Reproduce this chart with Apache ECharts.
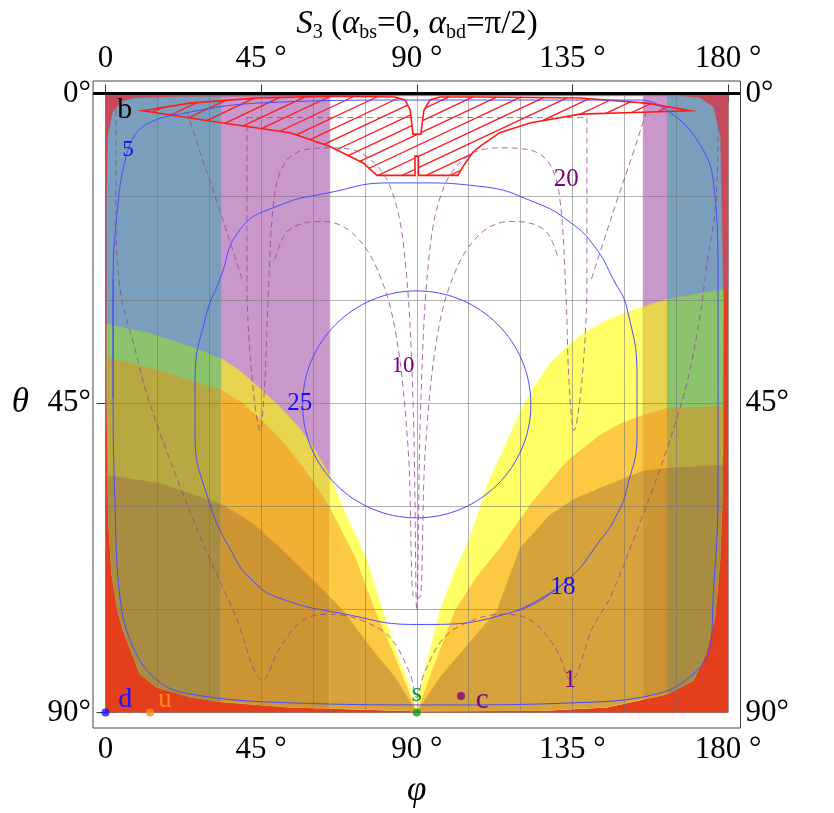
<!DOCTYPE html>
<html>
<head>
<meta charset="UTF-8">
<title>S3</title>
<style>
  html, body { margin: 0; padding: 0; background: #fff; }
  #chart { width: 834px; height: 813px; }
</style>
<script src="https://cdn.jsdelivr.net/npm/echarts@6/dist/echarts.min.js"></script>
</head>
<body>
<div id="chart"></div>
<script>
// ---- data (phi, theta in degrees) ----
var phiTicks = [0, 45, 90, 135, 180];
var thetaTicks = [0, 45, 90];

// vertical bands of the background
var bandEdges = [0, 33.5, 65, 155.5, 162.5, 180];
var bandKinds = ['blue', 'purple', 'white', 'purple', 'blue'];

// edge of the allowed region, red outside
var innerShape = [[8.5,0.7],[20,0.5],[90,0.4],[160,0.4],[166,0.4],[171.9,0.65],[175.7,2],[177.7,6.3],[178.6,30],[178.5,50],
  [178.3,58.8],[177.6,68],[176.2,76],[173.5,81.5],[170,85.3],[162.4,87.3],[145,89.2],[125.7,89.7],[90,89.75],[53,89.2],
  [33,88.4],[24.4,87.7],[14.8,86.3],[10,84.4],[5.1,78],[3.5,75],[1.9,70],[0.9,62],[0.45,44],[0.4,16],[0.8,6],[2.2,2.7],[4.7,1.2]];

// the three overlapping bottom regions, left and right branches
var yellowLeft = [[0,33.5],[12.9,34.9],[24.4,36.8],[33.7,38.6],[39,40.4],[44.7,42.9],[50.5,45.6],[56.2,48.7],[60.5,51.8],[64.9,55.6],
  [69.3,61],[75.3,67.5],[80.2,75.2],[84.6,82],[87.5,85.6],[90,90]];
var yellowRight = [[90,90],[91.8,84.9],[96.7,75.2],[101,69.5],[105.4,64.6],[111.2,55.9],[117,49.7],[120.2,46],[123.6,42.9],[128.5,39.3],
  [133,37],[138.1,34.9],[144,33.2],[150.8,31.8],[162.4,29.9],[180,28.4]];
var orangeLeft = [[0,38.3],[15.8,40.3],[33.7,43.2],[39.5,45],[44.7,47.3],[50.5,50.2],[56.2,53.8],[60.8,57],[64.9,60.3],[72.2,67.5],
  [77.9,75.2],[83.7,82],[86,84.9],[90,90]];
var orangeRight = [[90,90],[93.8,84.9],[101.1,75.2],[107.5,70.2],[114.1,66.1],[123.6,59.3],[133.4,53.5],[143,49.7],[149,48],
  [155.4,46.8],[162.4,45.8],[180,45.4]];
var brownLeft = [[0,55.5],[15.8,56.7],[33.7,59.8],[42.5,62.5],[50.5,66.1],[57,69.3],[62,71.8],[68.7,75.2],[76.5,80.5],[83.7,84.9],[90,90]];
var brownRight = [[90,90],[96.7,84.9],[105,80],[113.2,75.2],[119.9,66.1],[128.5,61.3],[135.5,59],[143,57.4],[155.4,54.9],
  [162.4,54.5],[180,54]];

// solid contours (loops start under their labels and overlap a little)
var contour5 = [[2.2,44.3],[2.2,27],[3.6,16.1],[5.6,9.9],[8.5,6],[13.4,4.1],[20.1,3.1],[43.8,1.4],[90,0.95],[154.7,0.95],[163.3,2.8],[171,6.7],
  [175.7,12.5],[177.1,27],[177.1,58.8],[175.7,73.3],[174.8,80.5],[169.9,84.4],[159.5,87.3],[135.2,88.6],[96.7,88.9],[53.4,88.6],
  [24.4,87.3],[14.9,85.3],[8,80.5],[4.2,73.3],[2.7,58.8],[2.2,44.3],[2.2,27]];
var contour18 = [[133.4,70.8],[119,75.2],[90,77.2],[69.3,75.7],[49.9,73.3],[42.5,70.8],[37.4,67.5],[29.6,58.8],[25.9,49.1],
  [25.9,41.9],[28.8,32.8],[33.1,27],[38.9,19.8],[49.6,16.4],[64.9,14.4],[82.3,13],[90,13],[108.3,13.5],[124,15.8],[134.3,18.7],
  [141.5,22.3],[146.8,27],[150.8,31.3],[153.7,41.9],[153.7,49.1],[150.8,57.4],[147.5,61.6],[143,65],[133.4,70.8],[119,75.2]];
// the 25 contour is a near-perfect circle: centre and half-extents in (phi, theta)
var contour25Center = [90, 45.2];
var contour25Half = [33, 16.5];

// dashed contours
var dashed1 = [[3,0.9],[3,15.4],[4.2,28.4],[8.5,37.1],[12.3,44.3],[21,56.4],[28.8,66.1],[37.4,75.7],[45.5,85.3],[50.5,80.5],[57.1,76.6],
  [64.9,75.7],[73.6,76.5],[82.3,79.1],[88.1,84.4],[90,87.8],[92.1,84.4],[97.9,79.1],[106.6,76.5],[115.2,75.7],[123,76.6],[130,80.5],
  [134.6,85.3],[140.9,77.6],[145.9,73.3],[155.4,61.3],[162.4,51.6],[168.2,41.9],[171.9,32.3],[174,24.5],[176.6,15.4],[177.2,0.9]];
var dashed20 = [[40.9,3.5],[56.2,3.5],[90,3.5],[122.7,3.5],[139.2,3.5],[139.2,15.4],[139.2,27],[137.8,41.5],[135.5,49],[134,41.5],
  [133.2,29.9],[131.4,15.4],[128.5,10.3],[122.7,8.2],[114.1,7.9],[105.4,8.9],[98.2,13.2],[93.8,22.6],[91.2,44.3],[90,75.2],
  [88.9,44.3],[86.3,22.6],[82,13.2],[74.8,8.9],[66.1,7.9],[57.4,8.2],[51.6,10.3],[48.7,15.4],[47,29.9],[46.1,41.5],[44.7,49],
  [42.4,41.5],[40.9,27],[40.9,15.4],[40.9,3.5]];
var dashed10 = [[49,24.1],[51.9,20.5],[56.2,19],[62.9,18.6],[70.7,20],[77.9,24.8],[83.7,34.2],[87.5,51.6],[89.2,73.3],[90.8,73.3],
  [92.5,51.6],[96.3,34.2],[102.1,24.8],[109.3,20],[117.1,18.6],[123.8,19],[128.1,20.5],[131,24.1]];
var dashedCornerL = [[23.6,2.6],[27,8],[32,15.4],[35,20],[39.5,27]];
var dashedCornerR = [[156.4,2.6],[153,8],[148,15.4],[145,20],[140.5,27]];

// hatched region near theta = 0
var hatchRegion = [[10.8,2.5],[24.4,1.4],[43.8,0.65],[64.9,0.4],[83.7,0.5],[86.6,0.94],[88.1,2.4],[88.6,4.6],[88.9,5.9],[91.2,5.9],
  [91.5,4.6],[92.1,2.4],[93.8,0.94],[96.7,0.5],[108.3,0.5],[137.2,0.65],[156.6,1.4],[169,2.5],[157.5,2.7],[137.2,3],[122.7,4.3],
  [114,5.7],[108.3,7.7],[106.3,8.5],[103.4,10.6],[101.9,11.9],[90.5,11.9],[90.5,9.1],[89.5,9.1],[89.5,11.9],[78.5,11.9],[74.5,10.1],
  [64.9,7.7],[53.4,5.7],[34,4.3]];

// quark points and text labels
var quarkNames = ['d', 'u', 's', 'c'];
var quarkPhi = [0, 12.9, 90, 102.8];
var quarkTheta = [90, 90, 90, 87.6];
var labelText = ['b', '5', '20', '10', '25', '18', '1', 'd', 'u', 's', 'c'];
var labelPhi = [5.6, 6.5, 133.2, 86, 56.2, 132.3, 134.3, 5.7, 17.2, 90, 108.9];
var labelTheta = [2.4, 8.2, 12.5, 39.6, 45.1, 71.8, 85.3, 88.2, 88.2, 87.3, 88.2];

// ---- styles ----
var serif = 'Liberation Serif';
var bandColors = {
  white:  { base: '#ffffff', yellow: '#ffff66', orange: '#fdc842', brown: '#d5a23b' },
  purple: { base: '#c997c9', yellow: '#e8d44e', orange: '#f0b031', brown: '#cc9433' },
  blue:   { base: '#7a9fbd', yellow: '#8cc46e', orange: '#b8a842', brown: '#a88c42' }
};
var redHigh = '#c94a5a', redLow = '#e43e1c';
var labelColors = { b: '#000', '5': '#1010ff', '20': '#800080', '10': '#800080', '25': '#1010ff', '18': '#1010ff', '1': '#800080',
  d: '#1515ff', u: '#ff8c1a', s: '#12a012', c: '#800080' };
var labelSizes = { b: 30, '5': 23, '20': 25, '10': 23, '25': 25, '18': 25, '1': 25, d: 28, u: 27, s: 27, c: 29 };
var dotColors = { d: '#1515ff', u: '#ff8c1a', s: '#12a012', c: '#800080' };
var dashColor = 'rgba(150,70,150,0.8)', solidColor = '#4b4bff';

var gridLeft = 105.5, gridTop = 93.5, gridRight = 834 - 728, gridBottom = 813 - 715.5;
var pad = 12.5;

// ---- polygon clipping ----
function clipPoly(poly, inside, cut) {
  var out = [];
  for (var i = 0; i < poly.length; i++) {
    var cur = poly[i], prev = poly[(i + poly.length - 1) % poly.length];
    var ci = inside(cur), pi = inside(prev);
    if (ci) {
      if (!pi) out.push(cut(prev, cur));
      out.push(cur);
    } else if (pi) {
      out.push(cut(prev, cur));
    }
  }
  return out;
}
function clipStrip(poly, a, b) {
  var p = clipPoly(poly, function (q) { return q[0] >= a; }, function (p1, p2) {
    var t = (a - p1[0]) / (p2[0] - p1[0]);
    return [a, p1[1] + t * (p2[1] - p1[1])];
  });
  return clipPoly(p, function (q) { return q[0] <= b; }, function (p1, p2) {
    var t = (b - p1[0]) / (p2[0] - p1[0]);
    return [b, p1[1] + t * (p2[1] - p1[1])];
  });
}
function polyArea(poly) {
  var s = 0;
  for (var i = 0; i < poly.length; i++) {
    var p = poly[i], q = poly[(i + 1) % poly.length];
    s += p[0] * q[1] - q[0] * p[1];
  }
  return s / 2;
}
function clipConvex(poly, clip) {
  var sgn = polyArea(clip) > 0 ? 1 : -1;
  var out = poly;
  for (var i = 0; i < clip.length && out.length; i++) {
    var c1 = clip[i], c2 = clip[(i + 1) % clip.length];
    var side = function (q) {
      return sgn * ((c2[0] - c1[0]) * (q[1] - c1[1]) - (c2[1] - c1[1]) * (q[0] - c1[0]));
    };
    out = clipPoly(out, function (q) { return side(q) >= 0; }, function (p1, p2) {
      var s1 = side(p1), s2 = side(p2), t = s1 / (s1 - s2);
      return [p1[0] + t * (p2[0] - p1[0]), p1[1] + t * (p2[1] - p1[1])];
    });
  }
  return out;
}
function layerPoly(left, right) {
  return left.concat(right.slice(1)).concat([[180, 90], [0, 90]]);
}
var layers = [
  { key: 'yellow', poly: clipConvex(layerPoly(yellowLeft, yellowRight), innerShape) },
  { key: 'orange', poly: clipConvex(layerPoly(orangeLeft, orangeRight), innerShape) },
  { key: 'brown', poly: clipConvex(layerPoly(brownLeft, brownRight), innerShape) }
];

function renderFills(params, api) {
  var children = [];
  function add(poly, color) {
    if (poly.length < 3) return;
    children.push({
      type: 'polygon', silent: true,
      shape: { points: poly.map(function (p) { return api.coord(p); }) },
      style: { fill: color, stroke: color, lineWidth: 0.6 }
    });
  }
  add([[0, 0], [180, 0], [180, 90], [0, 90]], redLow);
  add([[0, 0], [180, 0], [180, yellowRight[yellowRight.length - 1][1]], [0, yellowLeft[0][1]]], redHigh);
  for (var i = 0; i < bandKinds.length; i++) {
    var a = bandEdges[i], b = bandEdges[i + 1], cols = bandColors[bandKinds[i]];
    add(clipStrip(innerShape, a, b), cols.base);
    layers.forEach(function (L) { add(clipStrip(L.poly, a, b), cols[L.key]); });
  }
  return { type: 'group', children: children };
}

function renderHatch(params, api) {
  var pts = hatchRegion.map(function (p) { return api.coord(p); });
  var children = [];
  var slope = 0.47, step = 24;
  var cs = pts.map(function (p) { return p[1] + slope * p[0]; });
  var cmin = Math.min.apply(null, cs), cmax = Math.max.apply(null, cs);
  for (var c = cmin + 6; c < cmax; c += step * slope) {
    var xs = [];
    for (var i = 0; i < pts.length; i++) {
      var p1 = pts[i], p2 = pts[(i + 1) % pts.length];
      var f1 = p1[1] + slope * p1[0] - c, f2 = p2[1] + slope * p2[0] - c;
      if ((f1 < 0) !== (f2 < 0)) {
        var t = f1 / (f1 - f2);
        xs.push(p1[0] + t * (p2[0] - p1[0]));
      }
    }
    xs.sort(function (u, v) { return u - v; });
    for (var k = 0; k + 1 < xs.length; k += 2) {
      children.push({ type: 'line', silent: true,
        shape: { x1: xs[k], y1: c - slope * xs[k], x2: xs[k + 1], y2: c - slope * xs[k + 1] },
        style: { stroke: '#ff1a1a', lineWidth: 1.3 } });
    }
  }
  children.push({ type: 'polygon', silent: true, shape: { points: pts },
    style: { fill: 'none', stroke: '#ff1a1a', lineWidth: 1.6 } });
  return { type: 'group', children: children };
}

function renderCircle(params, api) {
  var c = api.coord(contour25Center), s = api.size(contour25Half);
  return { type: 'ellipse', silent: true, shape: { cx: c[0], cy: c[1], rx: s[0], ry: s[1] },
    style: { fill: 'none', stroke: solidColor, lineWidth: 1 } };
}

function renderTopLine(params, api) {
  var a = api.coord([0, 0]), b = api.coord([180, 0]);
  return { type: 'line', silent: true, shape: { x1: a[0] - pad, y1: a[1], x2: b[0] + pad, y2: b[1] },
    style: { stroke: '#000', lineWidth: 3 } };
}

function renderLabels(params, api) {
  var i = params.dataIndex, t = labelText[i];
  var p = api.coord([labelPhi[i], labelTheta[i]]);
  return { type: 'text', silent: true, x: p[0], y: p[1],
    style: { text: t, fill: labelColors[t], font: labelSizes[t] + 'px "' + serif + '"', align: 'center', verticalAlign: 'middle' } };
}

function lineSeries(data, color, dashed, smooth) {
  return { type: 'line', data: data, showSymbol: false, smooth: smooth, z: 5, silent: true,
    lineStyle: { color: color, width: 1, type: dashed ? [6, 4] : 'solid' } };
}

var chart = echarts.init(document.getElementById('chart'));

var degLabel = { fontFamily: serif, fontSize: 31, color: '#000' };
var nameStyle = { fontFamily: serif, fontStyle: 'italic', fontSize: 35, color: '#000' };
chart.setOption({
  animation: false,
  title: {
    text: '{i|S}{sub|3}{n| (}{i|α}{sub|bs}{n|=0, }{i|α}{sub|bd}{n|=π/2)}',
    left: 'center', top: 0,
    textStyle: {
      fontWeight: 'normal',
      rich: {
        i: { fontFamily: serif, fontStyle: 'italic', fontWeight: 'normal', fontSize: 33, lineHeight: 38, color: '#000' },
        n: { fontFamily: serif, fontWeight: 'normal', fontSize: 33, lineHeight: 38, color: '#000' },
        sub: { fontFamily: serif, fontWeight: 'normal', fontSize: 20, lineHeight: 16, verticalAlign: 'bottom', color: '#000' }
      }
    }
  },
  grid: { left: gridLeft, top: gridTop, right: gridRight, bottom: gridBottom },
  xAxis: [
    { type: 'value', min: 0, max: 180, interval: 15, position: 'bottom', z: 3,
      axisLine: { show: false }, axisTick: { show: false }, axisLabel: { show: false },
      splitLine: { show: true, lineStyle: { color: 'rgba(115,115,115,0.55)', width: 1 } } },
    { type: 'value', min: 0, max: 180, interval: 45, position: 'bottom', offset: pad,
      axisLine: { show: false }, splitLine: { show: false },
      axisTick: { inside: true, length: 9, lineStyle: { color: '#333' } },
      axisLabel: Object.assign({ margin: 9, formatter: function (v) { return v === 0 ? '0' : v + ' °'; } }, degLabel),
      name: 'φ', nameLocation: 'middle', nameGap: 48, nameTextStyle: nameStyle },
    { type: 'value', min: 0, max: 180, interval: 45, position: 'top', offset: pad,
      axisLine: { show: false }, splitLine: { show: false },
      axisTick: { inside: true, length: 9, lineStyle: { color: '#333' } },
      axisLabel: Object.assign({ margin: 7, formatter: function (v) { return v === 0 ? '0' : v + ' °'; } }, degLabel) }
  ],
  yAxis: [
    { type: 'value', min: 0, max: 90, interval: 15, inverse: true, position: 'left', z: 3,
      axisLine: { show: false }, axisTick: { show: false }, axisLabel: { show: false },
      splitLine: { show: true, lineStyle: { color: 'rgba(115,115,115,0.55)', width: 1 } } },
    { type: 'value', min: 0, max: 90, interval: 45, inverse: true, position: 'left', offset: pad,
      axisLine: { show: false }, splitLine: { show: false },
      axisTick: { inside: true, length: 9, lineStyle: { color: '#333' } },
      axisLabel: Object.assign({ margin: 2, formatter: '{value}°' }, degLabel),
      name: 'θ', nameLocation: 'middle', nameGap: 64, nameRotate: 0, nameTextStyle: nameStyle },
    { type: 'value', min: 0, max: 90, interval: 45, inverse: true, position: 'right', offset: pad,
      axisLine: { show: false }, splitLine: { show: false },
      axisTick: { inside: true, length: 9, lineStyle: { color: '#333' } },
      axisLabel: Object.assign({ margin: 5, formatter: '{value}°' }, degLabel) }
  ],
  graphic: [{
    type: 'rect', silent: true, z: 20,
    shape: { x: gridLeft - pad, y: gridTop - pad, width: 834 - gridRight - gridLeft + 2 * pad, height: 813 - gridBottom - gridTop + 2 * pad },
    style: { fill: 'none', stroke: '#444', lineWidth: 1 }
  }],
  series: [
    { type: 'custom', renderItem: renderFills, data: [0], z: 1, silent: true },
    { type: 'custom', renderItem: renderHatch, data: [0], z: 4, silent: true },
    lineSeries(contour5, solidColor, false, 0.4),
    lineSeries(contour18, solidColor, false, 0.5),
    { type: 'custom', renderItem: renderCircle, data: [0], z: 5, silent: true },
    lineSeries(dashed1, dashColor, true, 0.35),
    lineSeries(dashed20, dashColor, true, 0.35),
    lineSeries(dashed10, dashColor, true, 0.35),
    lineSeries(dashedCornerL, dashColor, true, 0.35),
    lineSeries(dashedCornerR, dashColor, true, 0.35),
    { type: 'custom', renderItem: renderTopLine, data: [0], z: 7, silent: true },
    { type: 'scatter', z: 8, clip: false, silent: true, symbolSize: 8,
      data: quarkNames.map(function (n, i) { return { value: [quarkPhi[i], quarkTheta[i]], itemStyle: { color: dotColors[n] } }; }) },
    { type: 'custom', renderItem: renderLabels, data: labelText.map(function (t, i) { return i; }), z: 9, silent: true }
  ]
});
</script>
</body>
</html>
